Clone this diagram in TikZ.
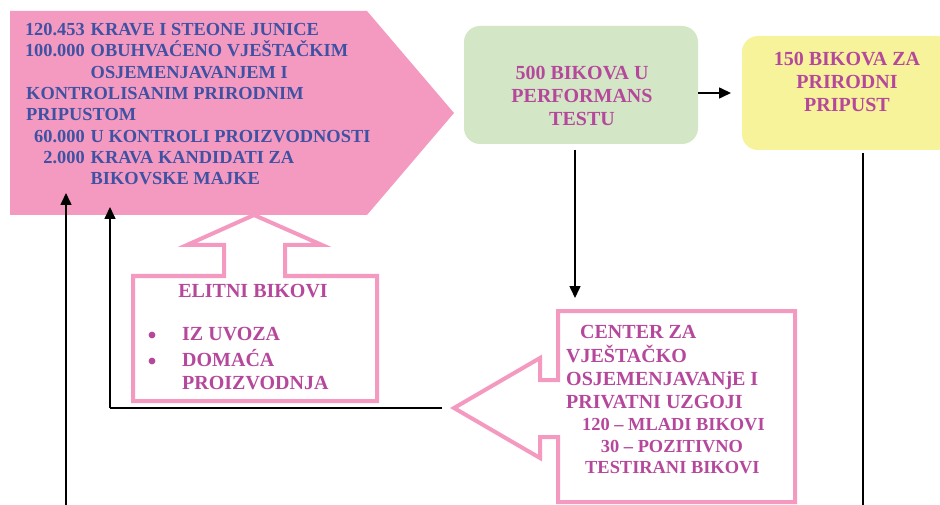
\documentclass[tikz,border=0pt]{standalone}
\usepackage{fontspec}
\setmainfont{Liberation Serif}
\usetikzlibrary{arrows.meta}
\definecolor{pinkfill}{HTML}{F49AC1}
\definecolor{bluetxt}{HTML}{3F51A3}
\definecolor{magtxt}{HTML}{B6489C}
\definecolor{greenfill}{HTML}{D3E7C6}
\definecolor{yellowfill}{HTML}{F6F39A}
\tikzset{
  pt/.style={anchor=base west,inner sep=0pt,text=bluetxt,font=\fontsize{18.4}{22}\selectfont\bfseries},
  pn/.style={anchor=base east,inner sep=0pt,text=bluetxt,font=\fontsize{18.4}{22}\selectfont\bfseries},
  mt/.style={inner sep=0pt,text=magtxt,font=\fontsize{20}{23}\selectfont\bfseries},
  ms/.style={inner sep=0pt,text=magtxt,font=\fontsize{18.4}{22}\selectfont\bfseries},
  callout/.style={draw=pinkfill,line width=4pt,fill=white,line join=miter},
  arr/.style={draw=black,line width=1.6pt,-{Triangle[length=12pt,width=11pt]}},
  plain/.style={draw=black,line width=1.6pt},
}
\begin{document}
\begin{tikzpicture}[x=1pt,y=-1pt]
\clip (0,0) rectangle (940,505);
\fill[white] (0,0) rectangle (940,505);

% elitni callout (up arrow)
\draw[callout] (133,276) -- (224,276) -- (224,245) -- (187,245) -- (254,215) -- (322,245) -- (285,245) -- (285,276) -- (377,276) -- (377,401) -- (133,401) -- cycle;

% pentagon
\fill[pinkfill] (10,11) -- (367,11) -- (454,113) -- (367,215) -- (10,215) -- cycle;
\coordinate (pentA) at (66,193);
\coordinate (pentB) at (110,207);

\node[pn] (n1) at (85,36) {120.453};
\node[pt] (t1) at (90.5,36) {KRAVE I STEONE JUNICE};
\node[pn] (n2) at (85,57) {100.000};
\node[pt] (t2) at (90.5,57) {OBUHVAĆENO VJEŠTAČKIM};
\node[pt] (t3) at (90.5,79) {OSJEMENJAVANJEM I};
\node[pt] (t4) at (26,100) {KONTROLISANIM PRIRODNIM};
\node[pt] (t5) at (26,121) {PRIPUSTOM};
\node[pn] (n6) at (85,143) {60.000};
\node[pt] (t6) at (90.5,143) {U KONTROLI PROIZVODNOSTI};
\node[pn] (n7) at (85,164) {2.000};
\node[pt] (t7) at (90.5,164) {KRAVA KANDIDATI ZA};
\node[pt] (t8) at (90.5,185) {BIKOVSKE MAJKE};

% elitni text
\node[mt,anchor=base] (el) at (253,297) {ELITNI BIKOVI};
\fill[magtxt] (152,335) circle (3.4);
\fill[magtxt] (152,361) circle (3.4);
\node[mt,anchor=base west] (e1) at (182,340) {IZ UVOZA};
\node[mt,anchor=base west] (e2) at (182,366) {DOMAĆA};
\node[mt,anchor=base west] (e3) at (182,389) {PROIZVODNJA};

% green box
\node[draw=none,fill=greenfill,rounded corners=16pt,minimum width=234pt,minimum height=118pt,inner sep=0pt] (green) at (581,85) {};
\node[mt,anchor=base] (g1) at (582,80) {500 BIKOVA U};
\node[mt,anchor=base] (g2) at (582,103) {PERFORMANS};
\node[mt,anchor=base] (g3) at (582,126) {TESTU};

% yellow box
\node[draw=none,fill=yellowfill,rounded corners=16pt,minimum width=210pt,minimum height=114pt,inner sep=0pt] (yellow) at (847,93) {};
\node[mt,anchor=base] (y1) at (847,66) {150 BIKOVA ZA};
\node[mt,anchor=base] (y2) at (847,89) {PRIRODNI};
\node[mt,anchor=base] (y3) at (847,112) {PRIPUST};

% center callout (left arrow)
\draw[callout] (558,311) -- (795,311) -- (795,502) -- (558,502) -- (558,437) -- (540,437) -- (540,458) -- (454,408) -- (540,358) -- (540,380) -- (558,380) -- cycle;
\coordinate (ctip) at (442,408);
\node[mt,anchor=base west] (c1) at (580,338) {CENTER ZA};
\node[mt,anchor=base west] (c2) at (566,362) {VJEŠTAČKO};
\node[mt,anchor=base west] (c3) at (566,385) {OSJEMENJAVANjE I};
\node[mt,anchor=base west] (c4) at (566,408) {PRIVATNI UZGOJI};
\node[ms,anchor=base west] (c5) at (582,430) {120 – MLADI BIKOVI};
\node[ms,anchor=base] (c6) at (672,452) {30 – POZITIVNO};
\node[ms,anchor=base west] (c7) at (585,473) {TESTIRANI BIKOVI};

% connectors
\coordinate (gy) at (731,93);
\draw[arr] (green.east |- gy) -- (gy);
\coordinate (cin) at (575,298);
\draw[arr] (575,150) -- (cin);
\coordinate (ybot) at (863,505);
\draw[plain] (863,153) -- (ybot);
\coordinate (lbot) at (66,505);
\draw[arr] (lbot) -- (pentA);
\coordinate (corner) at (110,408);
\draw[plain] (ctip) -- (corner);
\draw[arr] (corner) -- (pentB);
\end{tikzpicture}
\end{document}
